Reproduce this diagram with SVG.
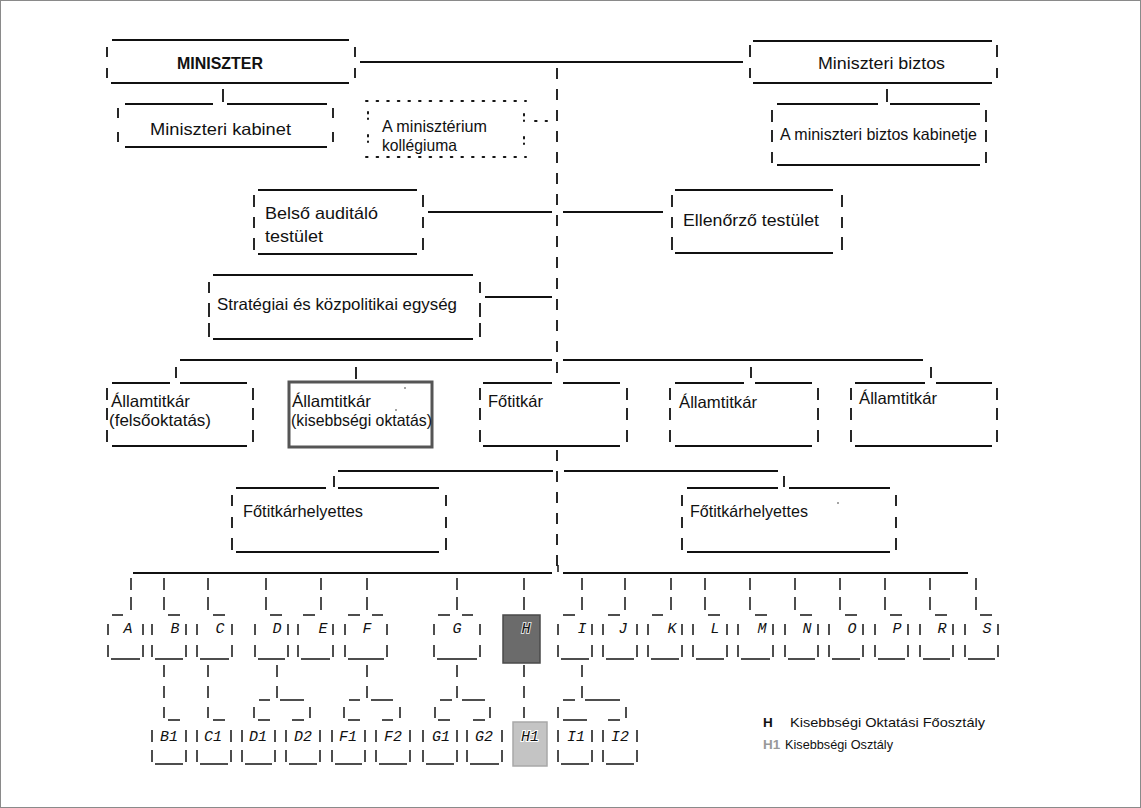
<svg xmlns="http://www.w3.org/2000/svg" width="1141" height="808" viewBox="0 0 1141 808">
<style>
.ln{stroke:#111;stroke-width:1.8;fill:none}
.sl{stroke:#151515;stroke-width:1.5;fill:none}
.dot{stroke:#151515;stroke-width:2;fill:none;stroke-dasharray:1.6 9;stroke-linecap:round}
.t{font-family:"Liberation Sans",Arial,sans-serif;font-size:16.5px;fill:#111}
.b{font-weight:bold}
.m{font-family:"Liberation Mono","Courier New",monospace;font-style:italic;font-size:15px;fill:#111;text-anchor:middle}
.main{stroke:#111;stroke-width:1.8;fill:none;stroke-dasharray:11 10}
</style>
<rect x="0.5" y="0.5" width="1140" height="807" fill="#fff" stroke="#8a8a8a" stroke-width="1"/>

<g id="connectors">
  <path class="ln" d="M360 62 H743"/>
  <path class="main" d="M557 68 V383"/>
  <path class="main" d="M557 450 V573"/>
  <path class="ln" d="M223 89 V102 M887 89 V102"/>
  <path class="ln" d="M428 212 H552 M563 212 H663"/>
  <path class="ln" d="M485 297 H552"/>
  <path class="ln" d="M180 360 H552 M563 360 H923"/>
  <path class="ln" d="M176 367 V378 M356 367 V379 M751 367 V378 M931 367 V378"/>
  <path class="ln" d="M338 471 H553 M564 471 H778"/>
  <path class="ln" d="M334 476 V487 M784 476 V487"/>
  <path class="ln" d="M133 573 H552 M563 573 H968"/>
  <path class="sl" d="M558 565 V572"/>
  <path class="sl" d="M131 578 V590 M131 597 V610 M164 578 V590 M164 597 V610 M208 578 V590 M208 597 V610 M266 578 V590 M266 597 V610 M321 578 V590 M321 597 V610 M367 578 V590 M367 597 V610 M457 578 V590 M457 597 V610 M524 578 V590 M524 597 V610 M582 578 V590 M582 597 V610 M625 578 V590 M625 597 V610 M671 578 V590 M671 597 V610 M705 578 V590 M705 597 V610 M750 578 V590 M750 597 V610 M795 578 V590 M795 597 V610 M840 578 V590 M840 597 V610 M885 578 V590 M885 597 V610 M930 578 V590 M930 597 V610 M976 578 V590 M976 597 V610"/>
  <path class="sl" d="M164 665 V677 M164 686 V698 M164 707 V718 M208 665 V677 M208 686 V698 M208 707 V718 M277 665 V677 M277 686 V698 M259 700 H270 M280 700 H304 M254 707 V718 M310 707 V718 M367 665 V677 M367 686 V698 M349 700 H360 M371 700 H393 M344 707 V718 M400 707 V718 M457 665 V677 M457 686 V698 M440 700 H452 M462 700 H485 M435 707 V718 M490 707 V718 M524 665 V677 M524 686 V698 M524 707 V718 M582 665 V677 M582 686 V698 M563 700 H575 M585 700 H620 M558 707 V718 M626 707 V718"/>
  <path class="sl" d="M168 720 H180 M213 720 H225 M258 720 H270 M292 720 H304 M348 720 H360 M382 720 H393 M438 720 H450 M473 720 H485 M563 720 H587 M608 720 H620"/>
</g>

<g id="n-miniszter">
  <path class="ln" d="M112 40 H349 M111 83 H349 M107 47 V57 M107 68 V78 M355 47 V57 M355 68 V78"/>
  <text class="t b" x="177" y="69" textLength="86" lengthAdjust="spacingAndGlyphs">MINISZTER</text>
</g>
<g id="n-kabinet">
  <path class="ln" d="M125 104 H213 M227 104 H327 M125 147 H327 M118 108 V118 M118 132 V142 M333 108 V118 M333 132 V142"/>
  <text class="t" x="150" y="135" textLength="141" lengthAdjust="spacingAndGlyphs">Miniszteri kabinet</text>
</g>
<g id="n-kollegium">
  <path class="dot" d="M366 101 H526 M366 157 H526"/>
  <path class="dot" d="M368 112 V119 M368 135 V142 M524 114 V121 M524 137 V144" style="stroke-dasharray:1.6 5"/>
  <path class="dot" d="M535 121 H547"/>
  <text class="t" x="382" y="132" textLength="105" lengthAdjust="spacingAndGlyphs">A minisztérium</text>
  <text class="t" x="382" y="151" textLength="75" lengthAdjust="spacingAndGlyphs">kollégiuma</text>
</g>
<g id="n-biztos">
  <path class="ln" d="M753 41 H992 M753 83 H992 M750 45 V57 M750 68 V78 M997 45 V57 M997 68 V78"/>
  <text class="t" x="818" y="69" textLength="127" lengthAdjust="spacingAndGlyphs">Miniszteri biztos</text>
</g>
<g id="n-biztos-kabinet">
  <path class="ln" d="M777 104 H878 M890 104 H980 M777 165 H980 M772 110 V122 M772 130 V142 M772 152 V163 M986 110 V122 M986 130 V142 M986 152 V163"/>
  <text class="t" x="780" y="140" textLength="197" lengthAdjust="spacingAndGlyphs">A miniszteri biztos kabinetje</text>
</g>
<g id="n-belso">
  <path class="ln" d="M258 190 H417 M258 254 H417 M254 195 V207 M254 217 V228 M254 238 V250 M423 195 V207 M423 217 V228 M423 238 V250"/>
  <text class="t" x="265" y="219" textLength="113" lengthAdjust="spacingAndGlyphs">Belső auditáló</text>
  <text class="t" x="265" y="242" textLength="58" lengthAdjust="spacingAndGlyphs">testület</text>
</g>
<g id="n-ellenorzo">
  <path class="ln" d="M675 190 H833 M675 253 H833 M672 195 V207 M672 217 V228 M672 237 V250 M842 195 V207 M842 217 V228 M842 237 V250"/>
  <text class="t" x="683" y="226" textLength="136" lengthAdjust="spacingAndGlyphs">Ellenőrző testület</text>
</g>
<g id="n-strategiai">
  <path class="ln" d="M213 275 H473 M213 339 H473 M209 282 V293 M209 303 V317 M209 323 V337 M480 282 V293 M480 303 V317 M480 323 V337"/>
  <text class="t" x="217" y="310" textLength="240" lengthAdjust="spacingAndGlyphs">Stratégiai és közpolitikai egység</text>
</g>
<g id="n-allam1">
  <path class="ln" d="M112 383 H170 M180 383 H247 M112 446 H247 M107 388 V400 M107 408 V420 M107 430 V442 M253 388 V400 M253 408 V420 M253 430 V442"/>
  <text class="t" x="111" y="407" textLength="79" lengthAdjust="spacingAndGlyphs">Államtitkár</text>
  <text class="t" x="109" y="426" textLength="102" lengthAdjust="spacingAndGlyphs">(felsőoktatás)</text>
</g>
<g id="n-allam2">
  <rect x="289" y="382" width="143" height="65" fill="none" stroke="#555" stroke-width="3"/>
  <text class="t" x="292" y="407" textLength="79" lengthAdjust="spacingAndGlyphs">Államtitkár</text>
  <text class="t" x="291" y="426" textLength="141" lengthAdjust="spacingAndGlyphs">(kisebbségi oktatás)</text>
  <circle cx="405" cy="388" r="0.8" fill="#333"/>
  <circle cx="396" cy="410" r="0.8" fill="#333"/>
</g>
<g id="n-fotitkar">
  <path class="ln" d="M483 383 H552 M563 383 H620 M483 446 H620 M480 388 V400 M480 408 V420 M480 430 V442 M627 388 V400 M627 408 V420 M627 430 V442"/>
  <text class="t" x="488" y="407" textLength="55" lengthAdjust="spacingAndGlyphs">Főtitkár</text>
</g>
<g id="n-allam3">
  <path class="ln" d="M675 383 H744 M755 383 H812 M675 446 H812 M670 388 V400 M670 408 V420 M670 430 V442 M818 388 V400 M818 408 V420 M818 430 V442"/>
  <text class="t" x="679" y="408" textLength="78" lengthAdjust="spacingAndGlyphs">Államtitkár</text>
</g>
<g id="n-allam4">
  <path class="ln" d="M855 383 H925 M936 383 H992 M855 446 H992 M851 388 V400 M851 408 V420 M851 430 V442 M997 388 V400 M997 408 V420 M997 430 V442"/>
  <text class="t" x="859" y="404" textLength="78" lengthAdjust="spacingAndGlyphs">Államtitkár</text>
</g>
<g id="n-fohely1">
  <path class="ln" d="M236 488 H326 M338 488 H439 M236 552 H439 M232 495 V506 M232 517 V528 M232 538 V550 M446 495 V506 M446 517 V528 M446 538 V550"/>
  <text class="t" x="243" y="517" textLength="120" lengthAdjust="spacingAndGlyphs">Főtitkárhelyettes</text>
</g>
<g id="n-fohely2">
  <path class="ln" d="M687 488 H778 M789 488 H890 M687 552 H890 M682 495 V506 M682 517 V528 M682 538 V550 M896 495 V506 M896 517 V528 M896 538 V550"/>
  <text class="t" x="690" y="517" textLength="118" lengthAdjust="spacingAndGlyphs">Főtitkárhelyettes</text>
  <circle cx="838" cy="503" r="0.8" fill="#333"/>
</g>

<g id="row1">
  <g id="n-A"><path class="sl" d="M112 615 H123 M108 624 V635 M143 624 V635 M108 645 V657 M143 645 V657 M111 659 H140"/><text class="m" x="128" y="633">A</text></g>
  <g id="n-B"><path class="sl" d="M168 615 H180 M152 624 V635 M186 624 V635 M152 645 V657 M186 645 V657 M155 659 H183"/><text class="m" x="175" y="633">B</text></g>
  <g id="n-C"><path class="sl" d="M213 615 H225 M197 624 V635 M232 624 V635 M197 645 V657 M232 645 V657 M200 659 H229"/><text class="m" x="220" y="633">C</text></g>
  <g id="n-D"><path class="sl" d="M270 615 H282 M255 624 V635 M288 624 V635 M255 645 V657 M288 645 V657 M258 659 H285"/><text class="m" x="277" y="633">D</text></g>
  <g id="n-E"><path class="sl" d="M303 615 H315 M298 624 V635 M333 624 V635 M298 645 V657 M333 645 V657 M301 659 H330"/><text class="m" x="323" y="633">E</text></g>
  <g id="n-F"><path class="sl" d="M348 615 H360 M372 615 H383 M345 624 V635 M387 624 V635 M345 645 V657 M387 645 V657 M348 659 H384"/><text class="m" x="367" y="633">F</text></g>
  <g id="n-G"><path class="sl" d="M438 615 H450 M462 615 H473 M434 624 V635 M480 624 V635 M434 645 V657 M480 645 V657 M437 659 H477"/><text class="m" x="457" y="633">G</text></g>
  <g id="n-H"><rect x="503" y="615" width="37" height="48" fill="#6b6b6b" stroke="#4a4a4a" stroke-width="1.5"/><text class="m" x="526" y="633" stroke="#ddd" stroke-width="2" paint-order="stroke" fill="#222">H</text></g>
  <g id="n-I"><path class="sl" d="M563 615 H575 M558 624 V635 M592 624 V635 M558 645 V657 M592 645 V657 M561 659 H589"/><text class="m" x="582" y="633">I</text></g>
  <g id="n-J"><path class="sl" d="M608 615 H620 M603 624 V635 M637 624 V635 M603 645 V657 M637 645 V657 M606 659 H634"/><text class="m" x="623" y="633">J</text></g>
  <g id="n-K"><path class="sl" d="M652 615 H663 M648 624 V635 M682 624 V635 M648 645 V657 M682 645 V657 M651 659 H679"/><text class="m" x="672" y="633">K</text></g>
  <g id="n-L"><path class="sl" d="M708 615 H720 M693 624 V635 M727 624 V635 M693 645 V657 M727 645 V657 M696 659 H724"/><text class="m" x="715" y="633">L</text></g>
  <g id="n-M"><path class="sl" d="M755 615 H767 M738 624 V635 M773 624 V635 M738 645 V657 M773 645 V657 M741 659 H770"/><text class="m" x="762" y="633">M</text></g>
  <g id="n-N"><path class="sl" d="M800 615 H812 M785 624 V635 M818 624 V635 M785 645 V657 M818 645 V657 M788 659 H815"/><text class="m" x="807" y="633">N</text></g>
  <g id="n-O"><path class="sl" d="M845 615 H857 M829 624 V635 M863 624 V635 M829 645 V657 M863 645 V657 M832 659 H860"/><text class="m" x="852" y="633">O</text></g>
  <g id="n-P"><path class="sl" d="M890 615 H902 M875 624 V635 M908 624 V635 M875 645 V657 M908 645 V657 M878 659 H905"/><text class="m" x="897" y="633">P</text></g>
  <g id="n-R"><path class="sl" d="M935 615 H947 M920 624 V635 M953 624 V635 M920 645 V657 M953 645 V657 M923 659 H950"/><text class="m" x="942" y="633">R</text></g>
  <g id="n-S"><path class="sl" d="M980 615 H992 M965 624 V635 M998 624 V635 M965 645 V657 M998 645 V657 M968 659 H995"/><text class="m" x="987" y="633">S</text></g>
</g>

<g id="row2">
  <g id="n-B1"><path class="sl" d="M152 730 V742 M186 730 V742 M152 750 V762 M186 750 V762 M155 764 H183"/><text class="m" x="169" y="741">B1</text></g>
  <g id="n-C1"><path class="sl" d="M197 730 V742 M231 730 V742 M197 750 V762 M231 750 V762 M200 764 H228"/><text class="m" x="213" y="741">C1</text></g>
  <g id="n-D1"><path class="sl" d="M242 730 V742 M275 730 V742 M242 750 V762 M275 750 V762 M245 764 H272"/><text class="m" x="258" y="741">D1</text></g>
  <g id="n-D2"><path class="sl" d="M286 730 V742 M320 730 V742 M286 750 V762 M320 750 V762 M289 764 H317"/><text class="m" x="303" y="741">D2</text></g>
  <g id="n-F1"><path class="sl" d="M332 730 V742 M365 730 V742 M332 750 V762 M365 750 V762 M335 764 H362"/><text class="m" x="348" y="741">F1</text></g>
  <g id="n-F2"><path class="sl" d="M376 730 V742 M410 730 V742 M376 750 V762 M410 750 V762 M379 764 H407"/><text class="m" x="393" y="741">F2</text></g>
  <g id="n-G1"><path class="sl" d="M423 730 V742 M457 730 V742 M423 750 V762 M457 750 V762 M426 764 H454"/><text class="m" x="441" y="741">G1</text></g>
  <g id="n-G2"><path class="sl" d="M467 730 V742 M502 730 V742 M467 750 V762 M502 750 V762 M470 764 H499"/><text class="m" x="484" y="741">G2</text></g>
  <g id="n-H1"><rect x="513" y="722" width="34" height="44" fill="#c4c4c4" stroke="#a8a8a8" stroke-width="1.5"/><text class="m" x="530" y="741" stroke="#fff" stroke-width="2" paint-order="stroke" fill="#444">H1</text></g>
  <g id="n-I1"><path class="sl" d="M558 730 V742 M592 730 V742 M558 750 V762 M592 750 V762 M561 764 H589"/><text class="m" x="576" y="741">I1</text></g>
  <g id="n-I2"><path class="sl" d="M603 730 V742 M637 730 V742 M603 750 V762 M637 750 V762 M606 764 H634"/><text class="m" x="620" y="741">I2</text></g>
</g>

<g id="legend">
  <text class="t b" x="763" y="727" style="font-size:13.5px">H</text>
  <text class="t" x="790" y="727" style="font-size:13.5px" textLength="195" lengthAdjust="spacingAndGlyphs">Kisebbségi Oktatási Főosztály</text>
  <text class="t b" x="763" y="749" style="font-size:13.5px;fill:#999">H1</text>
  <text class="t" x="785" y="749" style="font-size:13.5px" textLength="108" lengthAdjust="spacingAndGlyphs">Kisebbségi Osztály</text>
</g>
</svg>
